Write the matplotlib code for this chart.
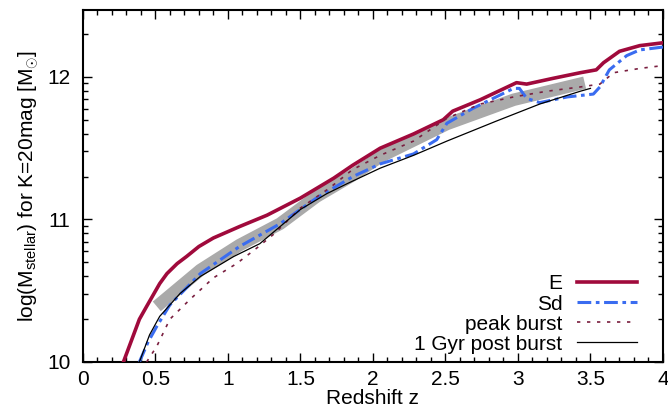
import numpy as np
import matplotlib.pyplot as plt

plt.rcParams['font.family'] = ['Liberation Sans', 'DejaVu Sans']
plt.rcParams['mathtext.fontset'] = 'custom'
plt.rcParams['mathtext.rm'] = 'Liberation Sans'
plt.rcParams['mathtext.it'] = 'Liberation Sans:italic'

# Curves (redshift z, log stellar mass)
E_z = [0.28, 0.39, 0.44, 0.485, 0.53, 0.58, 0.65, 0.715, 0.80, 0.90, 1.08, 1.27, 1.50, 1.73, 1.86, 2.05,
       2.28, 2.485, 2.55, 2.74, 2.99, 3.06, 3.24, 3.43, 3.54, 3.59, 3.70, 3.84, 4.0]
E_m = [10.0, 10.30, 10.39, 10.47, 10.55, 10.62, 10.69, 10.74, 10.81, 10.87, 10.95, 11.03, 11.15, 11.29, 11.38, 11.50,
       11.60, 11.70, 11.76, 11.84, 11.96, 11.95, 11.99, 12.03, 12.05, 12.10, 12.18, 12.22, 12.24]

Sd_z = [0.39, 0.45, 0.51, 0.60, 0.81, 1.08, 1.36, 1.61, 1.86, 2.05, 2.28, 2.44, 2.51,
        2.69, 2.97, 3.01, 3.06, 3.15, 3.34, 3.52, 3.565, 3.63, 3.75, 3.84, 4.0]
Sd_m = [10.0, 10.14, 10.25, 10.40, 10.62, 10.81, 10.97, 11.15, 11.30, 11.39, 11.46, 11.56, 11.675,
        11.78, 11.92, 11.92, 11.85, 11.82, 11.86, 11.88, 11.93, 12.05, 12.15, 12.19, 12.21]

peak_z = [0.44, 0.51, 0.60, 0.74, 0.90, 1.06, 1.20, 1.32, 1.50, 1.70, 1.86, 2.05,
          2.28, 2.51, 2.74, 2.97, 3.20, 3.43, 3.565, 3.66, 3.84, 4.0]
peak_m = [10.0, 10.11, 10.30, 10.44, 10.59, 10.69, 10.80, 10.90, 11.08, 11.22, 11.35, 11.45,
          11.55, 11.71, 11.81, 11.86, 11.90, 11.93, 11.95, 12.03, 12.06, 12.08]

post_z = [0.39, 0.46, 0.53, 0.67, 0.81, 1.04, 1.22, 1.36, 1.50, 1.68, 1.82, 2.05,
          2.28, 2.51, 2.85, 3.15, 3.43, 3.50]
post_m = [10.0, 10.19, 10.32, 10.48, 10.60, 10.74, 10.83, 10.95, 11.07, 11.18, 11.25, 11.36,
          11.45, 11.55, 11.69, 11.81, 11.90, 11.92]

# grey band
band_z = [0.51, 0.81, 1.08, 1.36, 1.61, 1.86, 2.05, 2.51, 2.97, 3.46]
band_m = [10.39, 10.645, 10.82, 10.97, 11.16, 11.31, 11.44, 11.67, 11.84, 11.96]

fig = plt.figure(figsize=(6.68, 4.17), dpi=100)
ax = fig.add_axes([0.124, 0.132, 0.8685, 0.844])

ax.plot(band_z, band_m, color='#aaaaaa', lw=9, solid_capstyle='butt', zorder=1)
ax.plot(E_z, E_m, color='#a00a3c', lw=2.6, label='E', zorder=3)
ax.plot(Sd_z, Sd_m, color='#3a6cf0', lw=2.2, dashes=(4.5, 1.5, 1.2, 1.5), label='Sd', zorder=4)
ax.plot(peak_z, peak_m, color='#7a1f40', lw=1.2, dashes=(2, 4), label='peak burst', zorder=5)
ax.plot(post_z, post_m, color='black', lw=0.9, label='1 Gyr post burst', zorder=6)

fs = 15
ax.set_xlim(0, 4)
ax.set_ylim(10, 12.47)
ax.set_xticks([0, 0.5, 1, 1.5, 2, 2.5, 3, 3.5, 4])
ax.set_xticklabels(['0', '0.5', '1', '1.5', '2', '2.5', '3', '3.5', '4'])
ax.set_xticks(np.arange(0, 4.01, 0.1), minor=True)
ax.set_yticks([10, 11, 12])
minor_y = [d + np.log10(k) for d in (10, 11, 12) for k in range(2, 10) if d + np.log10(k) < 12.47]
ax.set_yticks(minor_y, minor=True)

ax.tick_params(which='both', direction='in', top=True, right=True, labelsize=fs, width=1)
ax.tick_params(which='major', length=6.5)
ax.tick_params(which='minor', length=3.5)
ax.tick_params(axis='x', pad=6)
ax.tick_params(axis='y', pad=9)
for s in ax.spines.values():
    s.set_linewidth(1.5)

ax.set_xlabel('Redshift z', fontsize=fs, labelpad=0)
ax.set_ylabel(r'log(M$_{\mathrm{stellar}}$) for K=20mag [M$_{\odot}$]', fontsize=fs, labelpad=4)

ax.legend(loc='lower right', markerfirst=False, frameon=False, fontsize=fs,
          handlelength=2.9, labelspacing=0.05, handletextpad=0.7,
          borderaxespad=0.0, bbox_to_anchor=(0.97, 0.0))

fig.savefig('out.png', dpi=100)
